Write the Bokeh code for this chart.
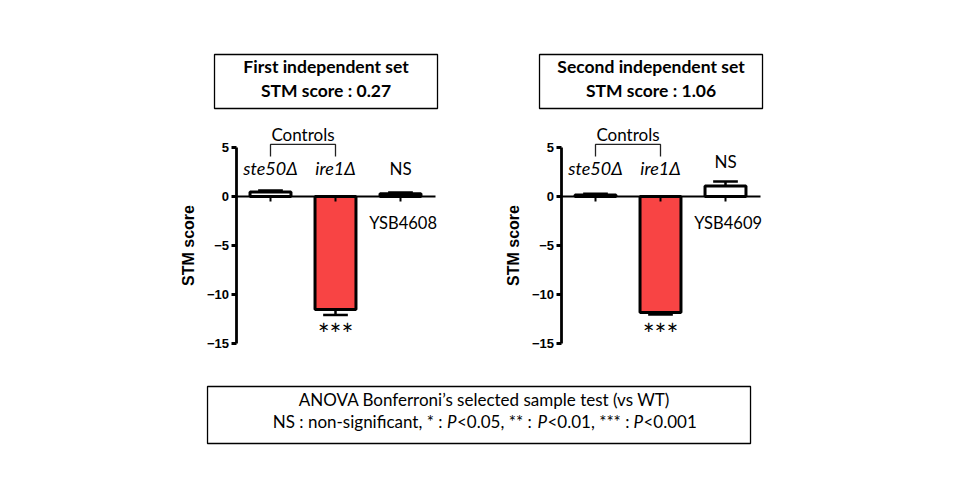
from bokeh.plotting import figure
from bokeh.models import Range1d, LinearAxis, FixedTicker
from bokeh.embed import file_html
from bokeh.resources import INLINE
from bokeh.core.properties import value

# ---------------- data ----------------
strains_1 = ["ste50Δ", "ire1Δ", "YSB4608"]
strains_2 = ["ste50Δ", "ire1Δ", "YSB4609"]
stm_scores_1 = [0.45, -11.55, 0.27]
stm_errors_1 = [0.15, 0.55, 0.12]
stm_scores_2 = [0.15, -11.85, 1.06]
stm_errors_2 = [0.12, 0.20, 0.45]
bar_colors = ["white", "#F84444", "white"]
set_titles = ["First independent set", "Second independent set"]
set_scores = ["STM score : 0.27", "STM score : 1.06"]
y_ticks = [-15, -10, -5, 0, 5]
control_label = "Controls"
ire1_significance = "***"
strain_significance = "NS"
anova_title = "ANOVA Bonferroni\u2019s selected sample test (vs WT)"
anova_legend = ["NS : non-significant, * :", "P", "<0.05, ** :", "P", "<0.01, *** :", "P", "<0.001"]

FONT = value("Lato")

p = figure(width=944, height=484, x_axis_type=None, y_axis_type=None,
           x_range=Range1d(-3.1538, 11.3692), y_range=Range1d(-29.398, 19.990),
           min_border=0, outline_line_color=None, toolbar_location=None,
           output_backend="svg", background_fill_color="white",
           border_fill_color="white")

PANEL_SHIFT = 5  # category units between the two panels
axis_x = 0.47
axis_x_end = 3.54

panels = [
    (strains_1, stm_scores_1, stm_errors_1, 2.898),
    (strains_2, stm_scores_2, stm_errors_2, 3.582),
]


def label(x, y, txt, size, style="normal", align="center"):
    p.text(x=x, y=y, text=txt, text_font=FONT, text_font_style=style,
           text_font_size=size, text_align=align, text_baseline="alphabetic",
           text_color="black")


for k, (strains, scores, errors, ns_y) in enumerate(panels):
    off = k * PANEL_SHIFT
    xs = [i + 1 + off for i in range(len(strains))]

    # error bars (one-sided, away from zero)
    ends = [v + (e if v >= 0 else -e) for v, e in zip(scores, errors)]
    p.segment(x0=xs, y0=scores, x1=xs, y1=ends, line_color="black", line_width=2.5)
    p.segment(x0=[x - 0.19 for x in xs], y0=ends, x1=[x + 0.19 for x in xs], y1=ends,
              line_color="black", line_width=2.5)
    # bars
    p.vbar(x=xs, top=scores, bottom=0, width=0.63, fill_color=bar_colors,
           line_color="black", line_width=3)

    # y axis pinned at the panel start
    ya = LinearAxis(fixed_location=axis_x + off, bounds=(y_ticks[0], y_ticks[-1]),
                    ticker=FixedTicker(ticks=y_ticks), axis_label="STM score")
    ya.axis_line_width = 2.8
    ya.major_tick_line_width = 2.8
    ya.major_tick_out = 5
    ya.major_tick_in = 0
    ya.minor_tick_line_color = None
    ya.major_label_standoff = 2
    ya.major_label_text_font = "Liberation Sans"
    ya.major_label_text_font_style = "bold"
    ya.major_label_text_font_size = "13px"
    ya.major_label_text_color = "black"
    ya.axis_label_text_font = "Liberation Sans"
    ya.axis_label_text_font_style = "bold"
    ya.axis_label_text_font_size = "16px"
    ya.axis_label_text_color = "black"
    ya.axis_label_standoff = 7
    p.add_layout(ya, "left")

    # x axis pinned at zero (tick marks only)
    xa = LinearAxis(fixed_location=0, bounds=(axis_x + off, axis_x_end + off),
                    ticker=FixedTicker(ticks=xs))
    xa.axis_line_width = 2.2
    xa.major_tick_line_width = 2
    xa.major_tick_out = 5
    xa.major_tick_in = 0
    xa.minor_tick_line_color = None
    xa.major_label_text_color = None
    p.add_layout(xa, "below")

    # strain labels
    label(xs[:2], [2.949, 2.949], strains[:2], "18px", style="italic")
    label([xs[2]], [ns_y], [strain_significance], "17px")
    label([xs[2] + 0.04], [-2.69], [strains[2]], "16.5px")
    label([xs[1]], [-14.04], [ire1_significance], "28px")

    # controls bracket
    p.multi_line(xs=[[xs[0], xs[0], xs[1], xs[1]]], ys=[[4.07, 5.3, 5.3, 4.07]],
                 line_color="#222222", line_width=1.3)
    label([(xs[0] + xs[1]) / 2], [6.3], [control_label], "17px")

    # title box
    cx = 1.854 + off
    p.rect(x=[cx], y=[11.724], width=223, height=54, width_units="screen",
           height_units="screen", fill_color=None, line_color="black", line_width=1.3)
    label([cx, cx], [13.23, 10.852], [set_titles[k], set_scores[k]], "17.5px", style="bold")

# bottom statistics box
p.rect(x=[4.208], y=[-22.306], width=543, height=57, width_units="screen",
       height_units="screen", fill_color=None, line_color="black", line_width=1.3)
label([4.292], [-20.745], [anova_title], "17px")

seg_x = [3.6462, 3.7154, 3.8692, 5.1077, 5.2615, 6.5846, 6.7385]
seg_align = ["right", "left", "left", "left", "left", "left", "left"]
for txt, sx, al in zip(anova_legend, seg_x, seg_align):
    label([sx], [-22.949], [txt], "17px", style="italic" if txt == "P" else "normal",
          align=al)

open("out.html", "w").write(file_html(p, INLINE))
